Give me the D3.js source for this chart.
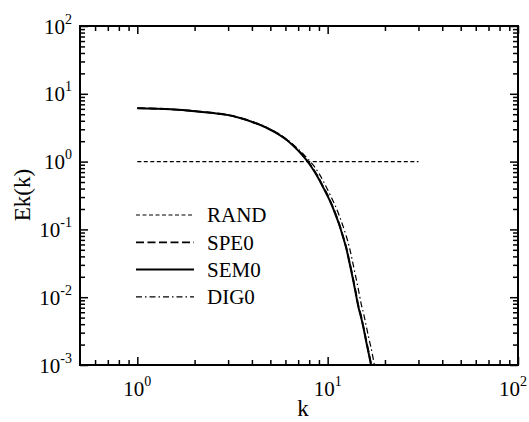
<!DOCTYPE html>
<html>
<head>
<meta charset="utf-8">
<script src="https://cdn.jsdelivr.net/npm/d3@7"></script>
<style>
  body { margin: 0; background: #fff; }
  text { font-family: "Liberation Serif", "Times New Roman", serif; fill: #000; }
</style>
</head>
<body>
<div id="chart"></div>
<script>
// values
let kRand = [1, 30];
let eRand = [1, 1];

let kVals = [1, 1.5, 2, 2.5, 3, 3.5, 4, 4.5, 5, 5.5, 6, 6.5, 7, 7.5, 8, 8.5, 9, 9.5,
	10, 10.5, 11, 11.5, 12, 12.5, 13, 13.5, 14, 14.5, 15, 15.5, 16, 16.5, 16.9, 17.6];
let eSem = [6.1, 5.9, 5.55, 5.2, 4.85, 4.35, 3.85, 3.4, 2.95, 2.55, 2.15, 1.78, 1.45, 1.17, 0.93, 0.72, 0.55, 0.41,
	0.31, 0.23, 0.165, 0.118, 0.08, 0.054, 0.033, 0.02, 0.012, 0.0072, 0.005, 0.0033, 0.0021, 0.0014, 0.001, 0.0005];
let eSpe = [6.15, 5.92, 5.57, 5.22, 4.86, 4.37, 3.87, 3.42, 2.97, 2.57, 2.17, 1.8, 1.47, 1.19, 0.95, 0.74, 0.565, 0.42,
	0.32, 0.235, 0.17, 0.12, 0.082, 0.055, 0.034, 0.021, 0.0125, 0.0075, 0.0052, 0.0034, 0.0022, 0.00145, 0.00104, 0.0005];
let eDig = [6.1, 5.9, 5.55, 5.2, 4.87, 4.38, 3.9, 3.45, 3.0, 2.6, 2.2, 1.85, 1.53, 1.27, 1.04, 0.85, 0.67, 0.51,
	0.385, 0.29, 0.22, 0.16, 0.115, 0.081, 0.055, 0.034, 0.021, 0.013, 0.008, 0.0055, 0.0036, 0.0024, 0.0018, 0.001];

let xMajor = [1, 10, 100];
let yMajor = [0.001, 0.01, 0.1, 1, 10, 100];
let xLabels = ["0", "1", "2"];
let yLabels = ["-3", "-2", "-1", "0", "1", "2"];

let series = [
	{ name: "RAND", k: kRand, e: eRand, dash: "4,2.5", w: 1.2 },
	{ name: "SPE0", k: kVals, e: eSpe, dash: "8,3.5", w: 1.8 },
	{ name: "SEM0", k: kVals, e: eSem, dash: null, w: 2 },
	{ name: "DIG0", k: kVals, e: eDig, dash: "6,3,1.5,3", w: 1.2 }
];

let svgWidth = 529;
let svgHeight = 422;
let margin = { top: 26, right: 11, bottom: 57, left: 80 };
let width = svgWidth - margin.left - margin.right;
let height = svgHeight - margin.top - margin.bottom;

let svg = d3.select("#chart")
	.append("svg")
	.attr("width", svgWidth)
	.attr("height", svgHeight);

let chartGroup = svg.append("g")
	.attr("transform", `translate(${margin.left}, ${margin.top})`);

let x = d3.scaleLog().domain([0.5, 100]).range([0, width]);
let y = d3.scaleLog().domain([0.001, 100]).range([height, 0]);

// minor tick positions
let xMinor = [];
[0.1, 1, 10].forEach(d => { for (let i = 2; i <= 9; i++) { let v = d * i; if (v > 0.5 && v < 100) xMinor.push(v); } });
let yMinor = [];
[0.001, 0.01, 0.1, 1, 10].forEach(d => { for (let i = 2; i <= 9; i++) yMinor.push(d * i); });

function drawAxis(axisFn, scale, vals, size, transform) {
	let g = chartGroup.append("g")
		.attr("transform", transform)
		.call(axisFn(scale).tickValues(vals).tickSize(size).tickFormat(""));
	g.select(".domain").remove();
	g.selectAll("line").attr("stroke", "#000").attr("stroke-width", 1.5);
	g.selectAll("text").remove();
}

drawAxis(d3.axisBottom, x, xMajor, -8, `translate(0, ${height})`);
drawAxis(d3.axisBottom, x, xMinor, -5, `translate(0, ${height})`);
drawAxis(d3.axisTop, x, xMajor, -8, "translate(0, 0)");
drawAxis(d3.axisTop, x, xMinor, -5, "translate(0, 0)");
drawAxis(d3.axisLeft, y, yMajor, -8, "translate(0, 0)");
drawAxis(d3.axisLeft, y, yMinor, -5, "translate(0, 0)");
drawAxis(d3.axisRight, y, yMajor, -8, `translate(${width}, 0)`);
drawAxis(d3.axisRight, y, yMinor, -5, `translate(${width}, 0)`);

chartGroup.append("rect")
	.attr("width", width)
	.attr("height", height)
	.attr("fill", "none")
	.attr("stroke", "#000")
	.attr("stroke-width", 2);

// tick labels (last one kept inside the page)
xMajor.forEach((v, i) => {
	let last = i == xMajor.length - 1;
	let t = chartGroup.append("text")
		.attr("x", last ? width + 9 : x(v))
		.attr("y", height + 31)
		.attr("text-anchor", last ? "end" : "middle")
		.style("font-size", "21px");
	t.append("tspan").text("10");
	t.append("tspan").attr("dy", -10).style("font-size", "14px").text(xLabels[i]);
});

yMajor.forEach((v, i) => {
	let t = chartGroup.append("text")
		.attr("x", -8)
		.attr("y", y(v) + 7.5)
		.attr("text-anchor", "end")
		.style("font-size", "21px");
	t.append("tspan").text("10");
	t.append("tspan").attr("dy", -10).style("font-size", "14px").text(yLabels[i]);
});

// curves
chartGroup.append("clipPath").attr("id", "clip")
	.append("rect").attr("width", width).attr("height", height);

let line = d3.line()
	.x(d => x(d[0]))
	.y(d => y(d[1]))
	.curve(d3.curveMonotoneX);

series.forEach(s => {
	chartGroup.append("path")
		.datum(s.k.map((k, i) => [k, s.e[i]]))
		.attr("clip-path", "url(#clip)")
		.attr("d", line)
		.attr("fill", "none")
		.attr("stroke", "#000")
		.attr("stroke-width", s.w)
		.attr("stroke-dasharray", s.dash);
});

// legend
let legend = chartGroup.append("g").attr("transform", "translate(56, 189)");
series.forEach((s, i) => {
	legend.append("line")
		.attr("x1", 0).attr("x2", 58)
		.attr("y1", i * 27.3).attr("y2", i * 27.3)
		.attr("stroke", "#000")
		.attr("stroke-width", s.w)
		.attr("stroke-dasharray", s.dash);
	legend.append("text")
		.attr("x", 71)
		.attr("y", i * 27.3)
		.attr("dy", "0.35em")
		.style("font-size", "21px")
		.text(s.name);
});

// axis titles
chartGroup.append("text")
	.attr("transform", "rotate(-90)")
	.attr("x", 0 - (195 - margin.top))
	.attr("y", 30 - margin.left)
	.style("text-anchor", "middle")
	.style("font-size", "23px")
	.text("Ek(k)");

chartGroup.append("text")
	.attr("x", 303 - margin.left)
	.attr("y", 416 - margin.top)
	.style("text-anchor", "middle")
	.style("font-size", "23px")
	.text("k");
</script>
</body>
</html>
